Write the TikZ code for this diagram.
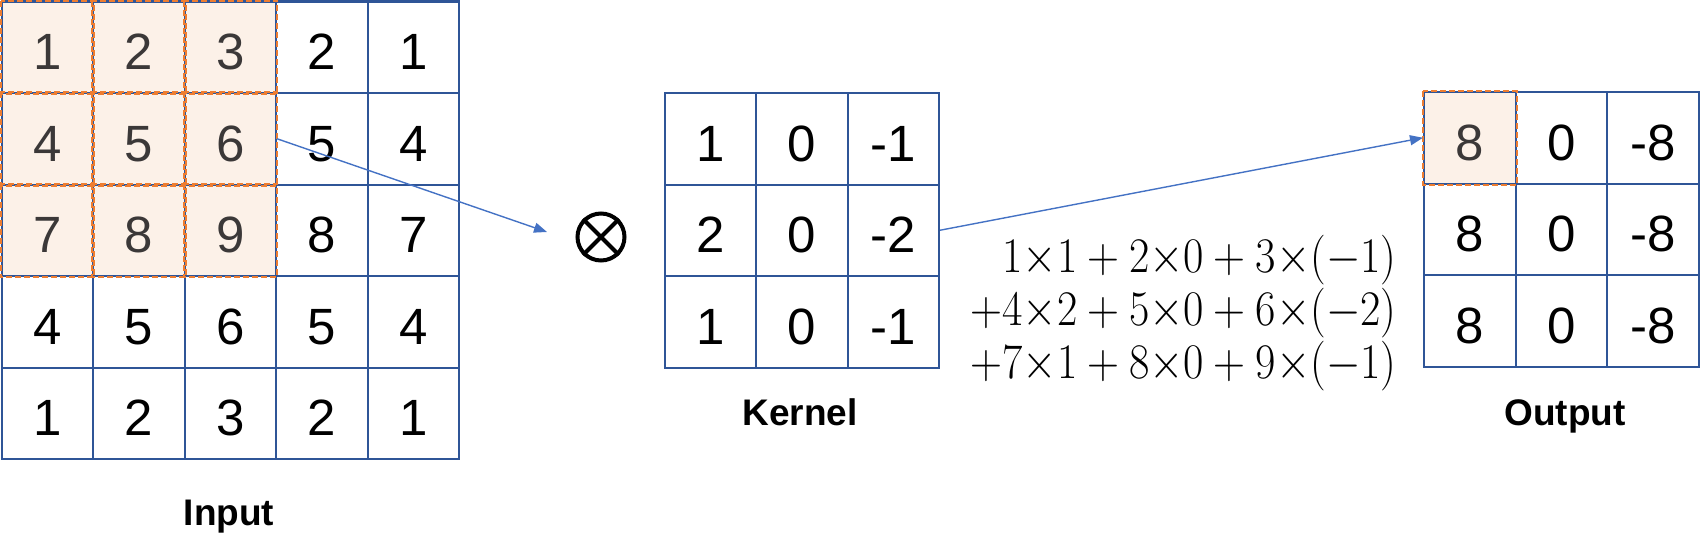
\documentclass[tikz,border=0pt]{standalone}
\usepackage[no-math]{fontspec}
\setmainfont{Liberation Sans}
\usepackage{graphicx}
\usetikzlibrary{arrows.meta}
\definecolor{gridblue}{HTML}{2F5597}
\definecolor{hlfill}{HTML}{FCF1E8}
\definecolor{hlorange}{HTML}{ED7D31}
\definecolor{hltext}{HTML}{3B3838}
\definecolor{arrowblue}{HTML}{4472C4}
\begin{document}
\begin{tikzpicture}[x=0.5pt,y=-0.5pt,
  cell/.style={draw=gridblue, line width=1pt, minimum width=45.75pt, minimum height=45.75pt,
    inner sep=0pt, font=\fontsize{25.5}{30}\selectfont, text height=22.3pt, text depth=0pt},
  plain/.style={},
  hl/.style={fill=hlfill, text=hltext},
  hlborder/.style={draw=hlorange, line width=1pt, dash pattern=on 3pt off 1.5pt},
  conn/.style={draw=arrowblue, line width=0.7pt, -{Triangle[length=6.5pt,width=5pt]}},
  lbl/.style={font=\fontsize{18.5}{22}\selectfont\bfseries, inner sep=0pt, anchor=base},
  formula/.style={font=\fontsize{23.3}{28}\selectfont, inner sep=0pt, anchor=base east}]
\useasboundingbox (0,0) rectangle (1704,557);

% Input grid
\foreach [count=\r] \row in {{1,2,3,2,1},{4,5,6,5,4},{7,8,9,8,7},{4,5,6,5,4},{1,2,3,2,1}} {
  \foreach [count=\c] \v in \row {
    \ifnum\r<4 \ifnum\c<4 \def\sty{hl}\else\def\sty{plain}\fi\else\def\sty{plain}\fi
    \node[cell,\sty] (i\r\c) at ({1.5+91.5*(\c-0.5)},{1.5+91.5*(\r-0.5)}) {\v};
  }
}
\foreach \r in {1,2,3} \foreach \c in {1,2,3}
  \draw[hlborder] (i\r\c.north west) rectangle (i\r\c.south east);

% Kernel grid
\foreach [count=\r] \row in {{1,0,-1},{2,0,-2},{1,0,-1}} {
  \foreach [count=\c] \v in \row {
    \node[cell] (k\r\c) at ({664.5+91.5*(\c-0.5)},{93+91.5*(\r-0.5)}) {\v};
  }
}

% Output grid
\foreach [count=\r] \row in {{8,0,-8},{8,0,-8},{8,0,-8}} {
  \foreach [count=\c] \v in \row {
    \ifnum\r=1 \ifnum\c=1 \def\sty{hl}\else\def\sty{plain}\fi\else\def\sty{plain}\fi
    \node[cell,\sty] (o\r\c) at ({1424+91.5*(\c-0.5)},{92+91.5*(\r-0.5)}) {\v};
  }
}
\draw[hlborder] (o11.north west) rectangle (o11.south east);

% Convolution symbol
\node[circle, draw, line width=2pt, minimum size=23.5pt, inner sep=0pt] (ot) at (601,237) {};
\draw[line width=2pt] (ot.45) -- (ot.225);
\draw[line width=2pt] (ot.135) -- (ot.315);

% Connectors
\coordinate (a1) at (547,232);
\draw[conn] (i23.east) -- (a1);
\draw[conn] (k23.east) -- (o11.west);

% Formula
\node[formula] (f1) at (1397,272) {\scalebox{0.89}[1]{$1{\times}1+2{\times}0+3{\times}(-1)$}};
\node[formula] (f2) at (1397,325) {\scalebox{0.89}[1]{$+4{\times}2+5{\times}0+6{\times}(-2)$}};
\node[formula] (f3) at (1397,378) {\scalebox{0.89}[1]{$+7{\times}1+8{\times}0+9{\times}(-1)$}};

% Labels
\node[lbl] (lin) at (229,525) {Input};
\node[lbl] (lker) at (800,425) {Kernel};
\node[lbl] (lout) at (1565,425) {Output};
\end{tikzpicture}
\end{document}
